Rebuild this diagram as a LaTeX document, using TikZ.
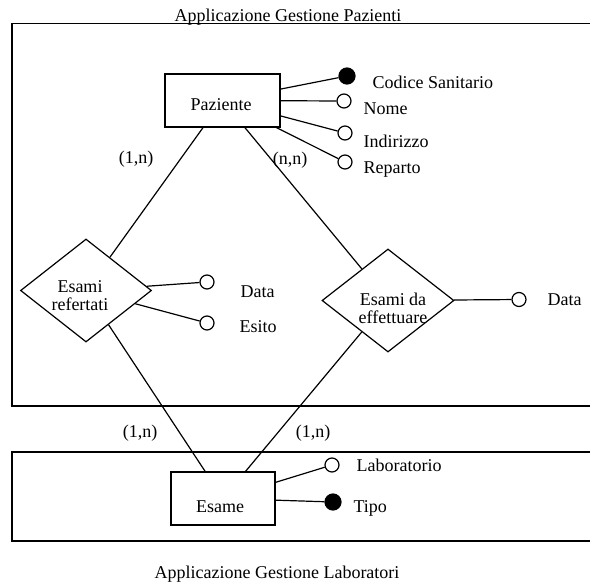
\documentclass[tikz,border=0pt]{standalone}
\usepackage{fontspec}
\setmainfont{Liberation Serif}
\usetikzlibrary{shapes.geometric}

\begin{document}
\begin{tikzpicture}[x=1pt,y=-1pt,line width=1.2pt,
  every node/.style={font=\fontsize{18}{18}\selectfont},
  entity/.style={draw,rectangle,inner sep=0pt},
  relation/.style={draw,diamond,inner sep=0pt,minimum width=131pt,minimum height=103pt},
  attr/.style={draw,circle,inner sep=0pt,minimum size=14pt},
  keyattr/.style={attr,fill=black,minimum size=16pt},
  txt/.style={anchor=west,inner sep=0pt}]
\useasboundingbox (0,0) rectangle (590,584);
% application boxes
\draw (592,23.5) -- (12,23.5) -- (12,406) -- (592,406);
\draw (592,452) -- (12,452) -- (12,541) -- (592,541);
\node[anchor=base] (titpaz) at (288,21) {Applicazione Gestione Pazienti};
\node[anchor=base] (titlab) at (277,578) {Applicazione Gestione Laboratori};
% entities and relations
\node[entity,minimum width=115pt,minimum height=53pt] (paz) at (222.5,100.5) {};
\node (pazT) at (221,105) {Paziente};
\node[entity,minimum width=104pt,minimum height=53pt] (esame) at (223,498.5) {};
\node (esameT) at (220,507) {Esame};
\node[relation] (refert) at (86,290.5) {};
\node[align=center] (refertT) at (80,296) {Esami\\refertati};
\node[relation,minimum width=132pt] (effett) at (388,300.5) {};
\node[align=center] (effettT) at (393,308) {Esami da\\effettuare};
% attributes
\node[keyattr] (codice) at (347,76) {};
\node[attr] (nome) at (344,101) {};
\node[attr] (indir) at (345,133) {};
\node[attr] (reparto) at (345,162) {};
\node[txt] (codiceT) at (372,82) {Codice Sanitario};
\node[txt] (nomeT) at (363,109) {Nome};
\node[txt] (indirT) at (363,141) {Indirizzo};
\node[txt] (repartoT) at (363,170) {Reparto};
\node[attr] (dataR) at (207,282) {};
\node[attr] (esito) at (207,323) {};
\node[txt] (dataRT) at (240,292) {Data};
\node[txt] (esitoT) at (239,327) {Esito};
\node[attr] (dataE) at (519,299.5) {};
\node[txt] (dataET) at (547,299.5) {Data};
\node[attr] (lab) at (332,465) {};
\node[keyattr] (tipo) at (333,502) {};
\node[txt] (labT) at (356,465) {Laboratorio};
\node[txt] (tipoT) at (353,508) {Tipo};
% cardinalities
\node (card1) at (136,159) {(1,n)};
\node (card2) at (290,160) {(n,n)};
\node (card3) at (140,433) {(1,n)};
\node (card4) at (313,433) {(1,n)};
% connectors
\draw (paz) -- (refert);
\draw (paz) -- (effett);
\draw (refert) -- (esame);
\draw (effett) -- (esame);
\foreach \a in {codice,nome,indir,reparto}
  \draw (paz) -- (\a);
\draw (refert) -- (dataR);
\draw (refert) -- (esito);
\draw (effett) -- (dataE);
\draw (esame) -- (lab);
\draw (esame) -- (tipo);
\end{tikzpicture}
\end{document}
